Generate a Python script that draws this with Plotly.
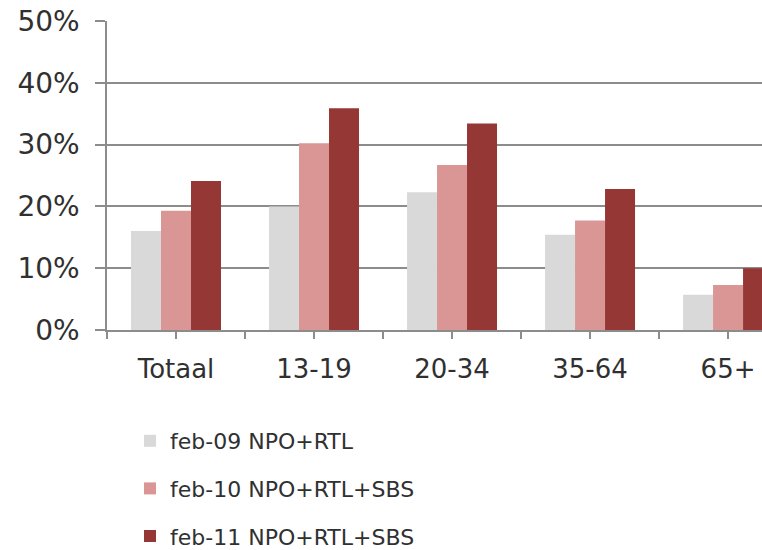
import plotly.graph_objects as go

categories = ["Totaal", "13-19", "20-34", "35-64", "65+"]
series_names = ["feb-09 NPO+RTL", "feb-10 NPO+RTL+SBS", "feb-11 NPO+RTL+SBS"]
feb09 = [16.0, 20.0, 22.3, 15.4, 5.7]
feb10 = [19.3, 30.2, 26.7, 17.7, 7.3]
feb11 = [24.1, 35.9, 33.4, 22.8, 10.0]
y_ticks = [0, 10, 20, 30, 40, 50]
y_ticklabels = ["0%", "10%", "20%", "30%", "40%", "50%"]

colors = ["#d9d9d9", "#d99694", "#953735"]
GRID = "#8c8c8c"
TXT = "#303030"
FONT = "DejaVu Sans"

x_idx = list(range(len(categories)))

fig = go.Figure()
for i, (name, vals) in enumerate(zip(series_names, [feb09, feb10, feb11])):
    fig.add_trace(go.Bar(
        x=x_idx, y=vals, name=name, marker=dict(color=colors[i], line=dict(width=0)),
        legendgroup=f"g{i}", hoverinfo="skip",
    ))

fig.update_layout(
    width=762, height=550,
    margin=dict(l=107, r=0, t=21, b=220, autoexpand=False),
    paper_bgcolor="white", plot_bgcolor="white",
    barmode="group", bargap=0.348, bargroupgap=0,
    font=dict(family=FONT, color=TXT),
    showlegend=True,
    legend=dict(
        xref="container", yref="container",
        x=130 / 762, y=1 - 420 / 550, xanchor="left", yanchor="top",
        traceorder="grouped", tracegroupgap=16,
        font=dict(family=FONT, size=22, color=TXT),
        bgcolor="rgba(0,0,0,0)",
    ),
    xaxis=dict(
        range=[-0.5, 4.246], automargin=False, tickangle=0,
        tickmode="array", tickvals=x_idx, ticktext=categories,
        ticks="outside", ticklen=7, tickcolor=GRID, tickwidth=1.5,
        minor=dict(tickmode="linear", tick0=-0.5, dtick=1, ticks="outside",
                   ticklen=7, tickcolor=GRID, tickwidth=1.5, showgrid=False),
        showline=True, linecolor=GRID, linewidth=1.5,
        showgrid=False, zeroline=False,
        tickfont=dict(family=FONT, size=26, color=TXT),
        ticklabelstandoff=8,
    ),
    yaxis=dict(
        range=[0, 50], automargin=False,
        tickmode="array", tickvals=y_ticks, ticktext=y_ticklabels,
        ticks="outside", ticklen=10, tickcolor=GRID, tickwidth=1.5,
        showline=True, linecolor=GRID, linewidth=1.5,
        showgrid=True, gridcolor=GRID, gridwidth=1.5,
        zeroline=False,
        tickfont=dict(family=FONT, size=28, color=TXT),
        ticklabelstandoff=10,
    ),
)

fig.write_html("out.html", config={"displayModeBar": False},
               post_script="document.body.style.margin='0';document.body.style.overflow='hidden';")
